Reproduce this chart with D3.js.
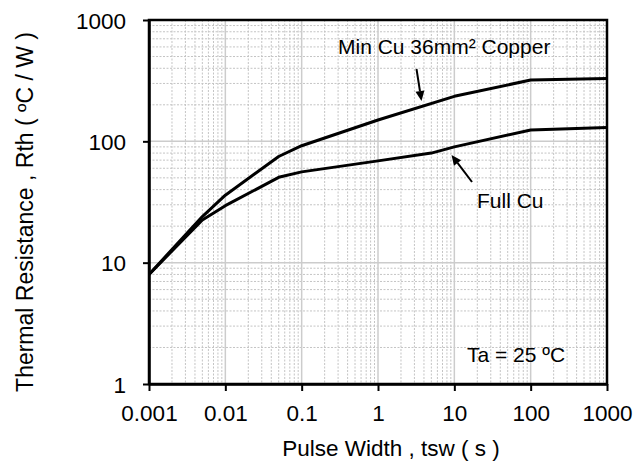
<!DOCTYPE html>
<html><head><meta charset="utf-8">
<script src="https://cdn.jsdelivr.net/npm/d3@7"></script>
<style>
html,body{margin:0;padding:0;background:#fff;}
text{font-family:"Liberation Sans",Arial,sans-serif;fill:#000;}
</style></head>
<body>
<svg id="chart" width="636" height="464"></svg>
<script>
// ---- data ----
const minCuPulse = [0.001, 0.005, 0.01, 0.05, 0.1, 1, 10, 100, 1000];
const minCuRth   = [8, 24, 36, 75, 92, 150, 235, 320, 330];
const fullCuPulse = [0.001, 0.005, 0.01, 0.05, 0.1, 1, 5, 10, 100, 1000];
const fullCuRth   = [8, 22.5, 29.5, 50.5, 56, 69, 80, 90, 124, 130];
const xTicks = [0.001, 0.01, 0.1, 1, 10, 100, 1000];
const xTickLabels = ["0.001", "0.01", "0.1", "1", "10", "100", "1000"];
const yTicks = [1, 10, 100, 1000];
const yTickLabels = ["1", "10", "100", "1000"];
const xTitle = "Pulse Width , tsw ( s )";
const yTitle = "Thermal Resistance , Rth ( ºC / W )";
const labelMin = "Min Cu 36mm² Copper";
const labelFull = "Full Cu";
const labelTa = "Ta = 25 ºC";

// ---- layout ----
const L = 149, R = 607, T = 20, B = 384;
const svg = d3.select("#chart");
const x = d3.scaleLog().domain([0.001, 1000]).range([L, R]);
const y = d3.scaleLog().domain([1, 1000]).range([B, T]);

// grid
const g = svg.append("g");
const minorX = [], minorY = [];
for (let d = 0.001; d < 1000; d *= 10) for (let k = 2; k <= 9; k++) minorX.push(+(d * k).toPrecision(3));
for (let d = 1; d < 1000; d *= 10) for (let k = 2; k <= 9; k++) minorY.push(d * k);
g.selectAll(".mx").data(minorX).join("line")
  .attr("x1", d => x(d)).attr("x2", d => x(d)).attr("y1", T).attr("y2", B)
  .attr("stroke", "#c4c4c4").attr("stroke-width", 1).attr("stroke-dasharray", "2,1.5");
g.selectAll(".my").data(minorY).join("line")
  .attr("y1", d => y(d)).attr("y2", d => y(d)).attr("x1", L).attr("x2", R)
  .attr("stroke", "#c4c4c4").attr("stroke-width", 1).attr("stroke-dasharray", "2,1.5");
g.selectAll(".Mx").data(xTicks).join("line")
  .attr("x1", d => x(d)).attr("x2", d => x(d)).attr("y1", T).attr("y2", B)
  .attr("stroke", "#cccccc").attr("stroke-width", 1.5);
g.selectAll(".My").data(yTicks).join("line")
  .attr("y1", d => y(d)).attr("y2", d => y(d)).attr("x1", L).attr("x2", R)
  .attr("stroke", "#cccccc").attr("stroke-width", 1.5);

// curves
const line = d3.line().x(d => x(d[0])).y(d => y(d[1]));
svg.append("path").datum(minCuPulse.map((p, i) => [p, minCuRth[i]]))
  .attr("d", line).attr("fill", "none").attr("stroke", "#000").attr("stroke-width", 3).attr("stroke-linejoin", "round");
svg.append("path").datum(fullCuPulse.map((p, i) => [p, fullCuRth[i]]))
  .attr("d", line).attr("fill", "none").attr("stroke", "#000").attr("stroke-width", 3).attr("stroke-linejoin", "round");

// frame
svg.append("rect").attr("x", L).attr("y", T).attr("width", R - L).attr("height", B - T)
  .attr("fill", "none").attr("stroke", "#000").attr("stroke-width", 2.5);

// axes
const xAxis = d3.axisBottom(x).tickValues(xTicks).tickFormat((d, i) => xTickLabels[i]).tickSizeInner(7).tickSizeOuter(0).tickPadding(10);
const xa = svg.append("g").attr("transform", `translate(0,${B})`).call(xAxis);
xa.select(".domain").attr("stroke", "#000").attr("stroke-width", 2.5);
xa.selectAll(".tick line").attr("stroke", "#000").attr("stroke-width", 2);
xa.selectAll(".tick text").attr("font-size", 22.5).attr("font-family", "Liberation Sans, Arial, sans-serif").attr("fill", "#000").attr("dy", 0).attr("y", 37);

const yAxis = d3.axisLeft(y).tickValues(yTicks).tickFormat((d, i) => yTickLabels[i]).tickSizeInner(6).tickSizeOuter(0).tickPadding(17);
const ya = svg.append("g").attr("transform", `translate(${L},0)`).call(yAxis);
ya.select(".domain").attr("stroke", "#000").attr("stroke-width", 2.5);
ya.selectAll(".tick line").attr("stroke", "#000").attr("stroke-width", 2);
ya.selectAll(".tick text").attr("font-size", 22.5).attr("font-family", "Liberation Sans, Arial, sans-serif").attr("fill", "#000").attr("x", -23).attr("dy", "0.36em");

// titles
svg.append("text").attr("x", 391).attr("y", 456).attr("text-anchor", "middle").attr("font-size", 22.5).text(xTitle);
svg.append("text").attr("transform", "translate(33,212) rotate(-90)").attr("text-anchor", "middle").attr("font-size", 23).text(yTitle);

// annotations
svg.append("text").attr("x", 338).attr("y", 54).attr("font-size", 21).text(labelMin);
svg.append("text").attr("x", 477).attr("y", 208).attr("font-size", 21).text(labelFull);
svg.append("text").attr("x", 467).attr("y", 362).attr("font-size", 21).text(labelTa);

// arrows
function arrow(x1, y1, x2, y2) {
  const ang = Math.atan2(y2 - y1, x2 - x1);
  const hl = 10, hw = 4.5;
  const bx = x2 - hl * Math.cos(ang), by = y2 - hl * Math.sin(ang);
  svg.append("line").attr("x1", x1).attr("y1", y1).attr("x2", bx).attr("y2", by)
    .attr("stroke", "#000").attr("stroke-width", 2);
  const px = -Math.sin(ang) * hw, py = Math.cos(ang) * hw;
  svg.append("path").attr("d", `M${x2},${y2}L${bx + px},${by + py}L${bx - px},${by - py}Z`).attr("fill", "#000");
}
arrow(416.5, 69, 421.5, 101);
arrow(472, 182, 451.5, 155);
</script>
</body></html>
